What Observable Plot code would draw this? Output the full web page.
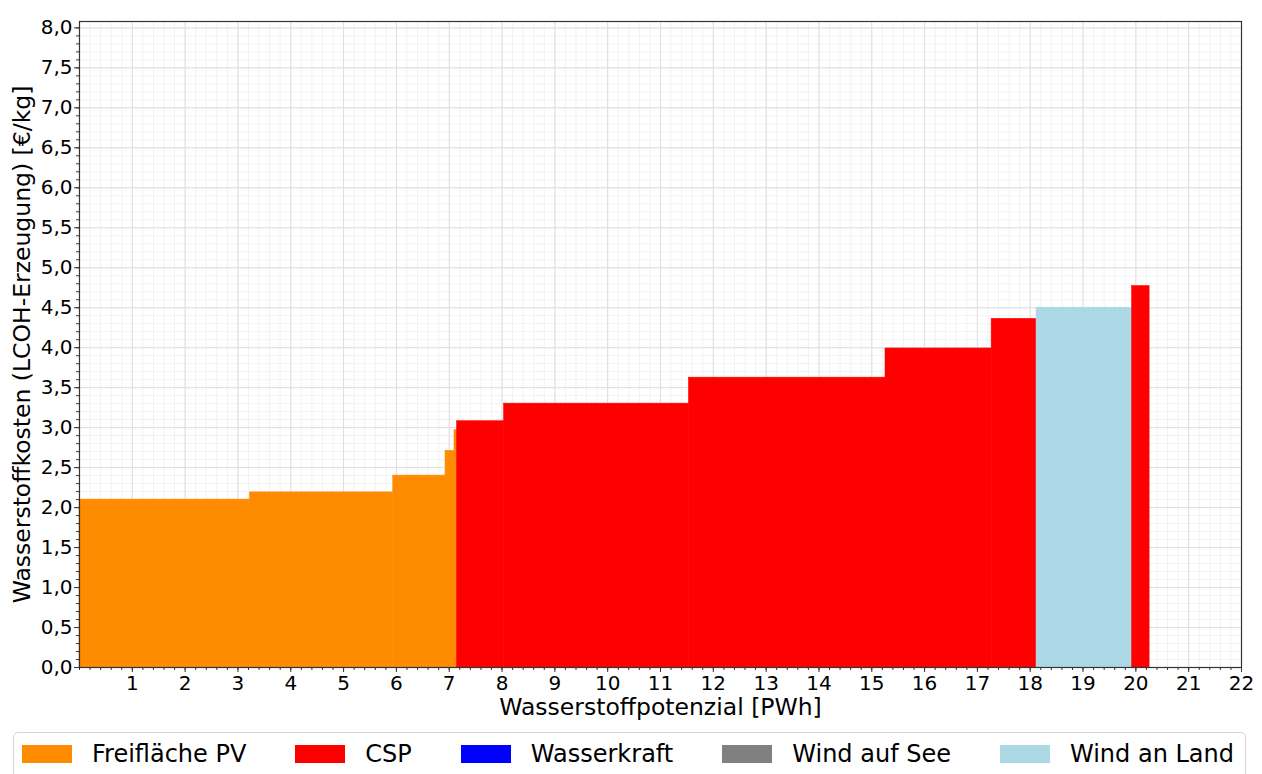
<!DOCTYPE html>
<html>
<head>
<meta charset="utf-8">
<script src="https://cdn.jsdelivr.net/npm/d3@7"></script>
<script src="https://cdn.jsdelivr.net/npm/@observablehq/plot@0.6"></script>
<style>
  html, body { margin: 0; padding: 0; background: #fff; }
  body { width: 1262px; height: 774px; position: relative; overflow: hidden; font-family: "DejaVu Sans", sans-serif; }
  #chart { position: absolute; left: 0; top: 0; }
  g[aria-label="x-axis label"] text, g[aria-label="y-axis label"] text { font-size: 23.5px; }
  #legend { position: absolute; left: 13px; top: 732px; width: 1233px; height: 50px; border: 1px solid #d6d6d6; border-radius: 5px; box-sizing: border-box; display: flex; align-items: flex-start; padding-left: 8px; padding-top: 11px; font-size: 24px; color: #000; }
  .item { display: flex; align-items: center; margin-right: 49px; }
  .patch { width: 50px; height: 18px; margin-right: 20px; }
  .lab { line-height: 20px; white-space: nowrap; }
</style>
</head>
<body>
<div id="chart"></div>
<div id="legend"></div>
<script>
// Technologies and colours
const techs = ["Freifläche PV", "CSP", "Wasserkraft", "Wind auf See", "Wind an Land"];
const techColors = ["#ff8c00", "#ff0000", "#0000ff", "#808080", "#add8e6"];

// Merit-order steps: cumulative potential [PWh] start/end, cost [€/kg], technology
const segStart = [0, 3.23, 5.94, 6.93, 7.10, 7.15, 8.04, 11.54, 15.26, 17.27, 18.12, 19.93];
const segEnd   = [3.23, 5.94, 6.93, 7.10, 7.15, 8.04, 11.54, 15.26, 17.27, 18.12, 19.93, 20.26];
const segCost  = [2.10, 2.19, 2.40, 2.71, 2.97, 3.08, 3.30, 3.625, 3.99, 4.36, 4.50, 4.77];
const segTech  = ["Freifläche PV", "Freifläche PV", "Freifläche PV", "Freifläche PV", "Freifläche PV",
                  "CSP", "CSP", "CSP", "CSP", "CSP", "Wind an Land", "CSP"];

// Axis ticks
const xTicks = d3.range(1, 23);
const yTicks = d3.range(0, 17).map(i => i * 0.5);
const xMinor = d3.range(0, 111).map(i => i * 0.2);
const yMinor = d3.range(0, 81).map(i => i * 0.1);

const segs = segStart.map((s, i) => ({x1: s, x2: segEnd[i], y: segCost[i], tech: segTech[i]}));
const fmtY = d => d.toFixed(1).replace(".", ",");

const chart = Plot.plot({
  width: 1262,
  height: 722,
  marginLeft: 79,
  marginRight: 21,
  marginTop: 21,
  marginBottom: 55,
  x: {domain: [0, 22]},
  y: {domain: [0, 8.08]},
  color: {domain: techs, range: techColors},
  style: {fontFamily: "DejaVu Sans", fontSize: "20px", color: "#000", background: "#fff"},
  marks: [
    Plot.gridX(xMinor, {stroke: "#f2f2f2", strokeOpacity: 1}),
    Plot.gridY(yMinor, {stroke: "#f2f2f2", strokeOpacity: 1}),
    Plot.gridX(xTicks, {stroke: "#dedede", strokeOpacity: 1}),
    Plot.gridY(yTicks, {stroke: "#dedede", strokeOpacity: 1}),
    Plot.rectY(segs, {x1: "x1", x2: "x2", y1: 0, y2: "y", fill: "tech", stroke: "tech", strokeWidth: 0.6}),
    Plot.axisX(xMinor, {tickSize: 3, text: null, label: null, stroke: "#333"}),
    Plot.axisY(yMinor, {tickSize: 3, text: null, label: null, stroke: "#333"}),
    Plot.axisX(xTicks, {tickSize: 5, tickPadding: 3, stroke: "#333", tickFormat: d => String(d),
      label: "Wasserstoffpotenzial [PWh]", labelAnchor: "center", labelArrow: "none", labelOffset: 47}),
    Plot.axisY(yTicks, {tickSize: 5, tickPadding: 2, stroke: "#333", tickFormat: fmtY,
      label: "Wasserstoffkosten (LCOH-Erzeugung) [€/kg]", labelAnchor: "center", labelArrow: "none", labelOffset: 66}),
    Plot.frame({stroke: "#333", strokeWidth: 1.2})
  ]
});
document.getElementById("chart").appendChild(chart);

const legend = document.getElementById("legend");
techs.forEach((t, i) => {
  const item = document.createElement("div");
  item.className = "item";
  const p = document.createElement("div");
  p.className = "patch";
  p.style.background = techColors[i];
  const l = document.createElement("span");
  l.className = "lab";
  l.textContent = t;
  item.appendChild(p);
  item.appendChild(l);
  legend.appendChild(item);
});
</script>
</body>
</html>
